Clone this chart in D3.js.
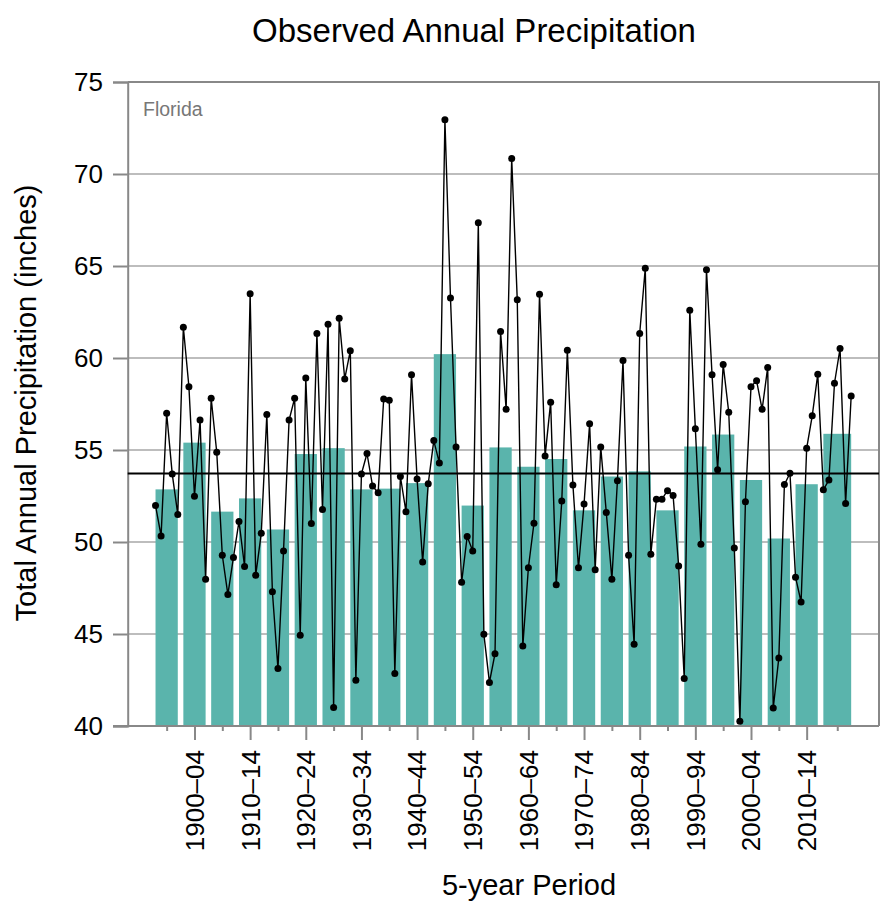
<!DOCTYPE html>
<html>
  <head>
    <meta charset="utf-8" />
    <title>Observed Annual Precipitation</title>
    <script src="https://d3js.org/d3.v7.min.js"></script>
    <style>
        body {
            margin:0;
            background:#fff;
        }
        text {
            font-family: "Liberation Sans", Arial, Helvetica, sans-serif;
        }
    </style>
  </head>
  <body>
    <svg id="viz"></svg>

    <script>
    // annual totals, Florida, 1895-2020 (inches)
    var years = d3.range(1895, 2021);
    var annualValues = [
      51.98, 50.33, 57.0, 53.7, 51.5,
      61.67, 58.44, 52.49, 56.63, 47.98,
      57.81, 54.88, 49.28, 47.14, 49.16,
      51.12, 48.67, 63.49, 48.19, 50.47,
      56.93, 47.3, 43.12, 49.51, 56.63,
      57.81, 44.93, 58.91, 51.0, 61.33,
      51.77, 61.84, 41.0, 62.16, 58.86,
      60.4, 42.49, 53.7, 54.81, 53.05,
      52.67, 57.77, 57.7, 42.86, 53.56,
      51.65, 59.09, 53.42, 48.91, 53.16,
      55.51, 54.3, 72.95, 63.26, 55.16,
      47.81, 50.3, 49.51, 67.35, 44.98,
      42.37, 43.93, 61.44, 57.21, 70.84,
      63.16, 44.35, 48.6, 51.02, 63.47,
      54.67, 57.6, 47.67, 52.23, 60.42,
      53.1, 48.6, 52.07, 56.42, 48.49,
      55.16, 51.6, 47.98, 53.33, 59.86,
      49.28, 44.44, 61.33, 64.88, 49.33,
      52.33, 52.33, 52.79, 52.53, 48.7,
      42.58, 62.6, 56.16, 49.88, 64.79,
      59.09, 53.93, 59.65, 57.05, 49.67,
      40.26, 52.19, 58.44, 58.77, 57.21,
      59.49, 40.98, 43.7, 53.12, 53.74,
      48.09, 46.74, 55.09, 56.86, 59.12,
      52.84, 53.37, 58.63, 60.51, 52.09,
      57.93
    ];

    // 5-year periods (last one runs to 2020)
    var periodStart = [1895, 1900, 1905, 1910, 1915, 1920, 1925, 1930, 1935, 1940, 1945, 1950, 1955,
                       1960, 1965, 1970, 1975, 1980, 1985, 1990, 1995, 2000, 2005, 2010, 2015];
    var periodEnd = [1899, 1904, 1909, 1914, 1919, 1924, 1929, 1934, 1939, 1944, 1949, 1954, 1959,
                     1964, 1969, 1974, 1979, 1984, 1989, 1994, 1999, 2004, 2009, 2014, 2020];
    var periodValues = [52.86, 55.4, 51.65, 52.37, 50.68, 54.78, 55.1, 52.86, 52.9, 53.2, 60.21, 51.98, 55.14,
                        54.09, 54.51, 51.72, 53.56, 53.84, 51.72, 55.19, 55.84, 53.37, 50.19, 53.14, 55.88];
    var periodLabels = ["1895–99", "1900–04", "1905–09", "1910–14", "1915–19", "1920–24", "1925–29",
                        "1930–34", "1935–39", "1940–44", "1945–49", "1950–54", "1955–59", "1960–64",
                        "1965–69", "1970–74", "1975–79", "1980–84", "1985–89", "1990–94", "1995–99",
                        "2000–04", "2005–09", "2010–14", "2015–20"];

    var longTermMean = 53.72;
    var yTicks = [40, 45, 50, 55, 60, 65, 70, 75];

    var width = 880, height = 904;
    var plotLeft = 127.7, plotRight = 879, plotTop = 82, plotBottom = 726;

    var svg = d3.select("#viz")
      .attr("width", width)
      .attr("height", height);

    var x = d3.scaleLinear().domain([1890, 2025]).range([plotLeft, plotRight]);
    var y = d3.scaleLinear().domain([40, 75]).range([plotBottom, plotTop]);

    var periods = periodStart.map(function(s, i) {
      return {start: s, end: periodEnd[i], value: periodValues[i], label: periodLabels[i], i: i};
    });
    var points = years.map(function(yr, i) { return {year: yr, value: annualValues[i]}; });

    // grid lines
    svg.append("g")
      .selectAll("line")
      .data(yTicks.filter(function(d){ return d > 40 && d < 75; }))
      .enter().append("line")
      .attr("x1", plotLeft).attr("x2", plotRight)
      .attr("y1", function(d){ return y(d); })
      .attr("y2", function(d){ return y(d); })
      .attr("stroke", "#bdbdbd")
      .attr("stroke-width", 2);

    // bars
    svg.append("g")
      .selectAll("rect")
      .data(periods)
      .enter().append("rect")
      .attr("x", function(d){ return x(d.start); })
      .attr("width", function(d){ return x(d.end) - x(d.start); })
      .attr("y", function(d){ return y(d.value); })
      .attr("height", function(d){ return y(40) - y(d.value); })
      .attr("fill", "#5ab4ac");

    // frame (top + right)
    svg.append("path")
      .attr("d", "M" + plotLeft + "," + plotTop + "H" + plotRight + "V" + plotBottom)
      .attr("fill", "none")
      .attr("stroke", "#888")
      .attr("stroke-width", 2);

    // y axis
    var yAxis = d3.axisLeft(y)
      .tickValues(yTicks)
      .tickSize(14.7)
      .tickPadding(10);

    var yg = svg.append("g")
      .attr("transform", "translate(" + plotLeft + ",0)")
      .call(yAxis);
    yg.select(".domain").attr("stroke", "#888").attr("stroke-width", 2);
    yg.selectAll(".tick line").attr("stroke", "#888").attr("stroke-width", 2);
    yg.selectAll(".tick text")
      .attr("font-size", 26)
      .attr("fill", "#000")
      .attr("font-family", "Liberation Sans, Arial, sans-serif");

    // x axis (ticks at period centres, every other one labelled)
    var centres = periods.map(function(d){ return (d.start + d.end) / 2; });
    var xAxis = d3.axisBottom(x)
      .tickValues(centres)
      .tickSize(0)
      .tickFormat("");

    var xg = svg.append("g")
      .attr("transform", "translate(0," + plotBottom + ")")
      .call(xAxis);
    xg.select(".domain").remove();
    xg.append("line")
      .attr("x1", plotLeft - 14.7).attr("x2", plotRight)
      .attr("stroke", "#888").attr("stroke-width", 2);
    xg.selectAll(".tick line")
      .attr("y2", function(d, i){ return i % 2 === 1 ? 14 : 5; })
      .attr("stroke", "#888")
      .attr("stroke-width", 2);
    xg.selectAll(".tick text").remove();

    xg.selectAll(".plabel")
      .data(periods.filter(function(d){ return d.i % 2 === 1; }))
      .enter().append("text")
      .attr("class", "plabel")
      .attr("transform", function(d){
        return "translate(" + x((d.start + d.end) / 2) + ",24) rotate(-90)";
      })
      .attr("text-anchor", "end")
      .attr("dy", "0.36em")
      .attr("font-size", 26)
      .attr("fill", "#000")
      .text(function(d){ return d.label; });

    // long-term mean
    svg.append("line")
      .attr("x1", plotLeft).attr("x2", plotRight)
      .attr("y1", y(longTermMean)).attr("y2", y(longTermMean))
      .attr("stroke", "#000")
      .attr("stroke-width", 2);

    // annual line + dots
    var line = d3.line()
      .x(function(d){ return x(d.year); })
      .y(function(d){ return y(d.value); });

    svg.append("path")
      .datum(points)
      .attr("d", line)
      .attr("fill", "none")
      .attr("stroke", "#000")
      .attr("stroke-width", 1.4);

    svg.append("g")
      .selectAll("circle")
      .data(points)
      .enter().append("circle")
      .attr("cx", function(d){ return x(d.year); })
      .attr("cy", function(d){ return y(d.value); })
      .attr("r", 3.5)
      .attr("fill", "#000");

    // texts
    svg.append("text")
      .attr("x", 143).attr("y", 116)
      .attr("font-size", 19.5)
      .attr("fill", "#777")
      .text("Florida");

    svg.append("text")
      .attr("x", 474).attr("y", 42)
      .attr("text-anchor", "middle")
      .attr("font-size", 33)
      .attr("fill", "#000")
      .text("Observed Annual Precipitation");

    svg.append("text")
      .attr("transform", "translate(36,403) rotate(-90)")
      .attr("text-anchor", "middle")
      .attr("font-size", 29)
      .attr("fill", "#000")
      .text("Total Annual Precipitation (inches)");

    svg.append("text")
      .attr("x", 529).attr("y", 895)
      .attr("text-anchor", "middle")
      .attr("font-size", 29)
      .attr("fill", "#000")
      .text("5-year Period");
    </script>
  </body>
</html>
